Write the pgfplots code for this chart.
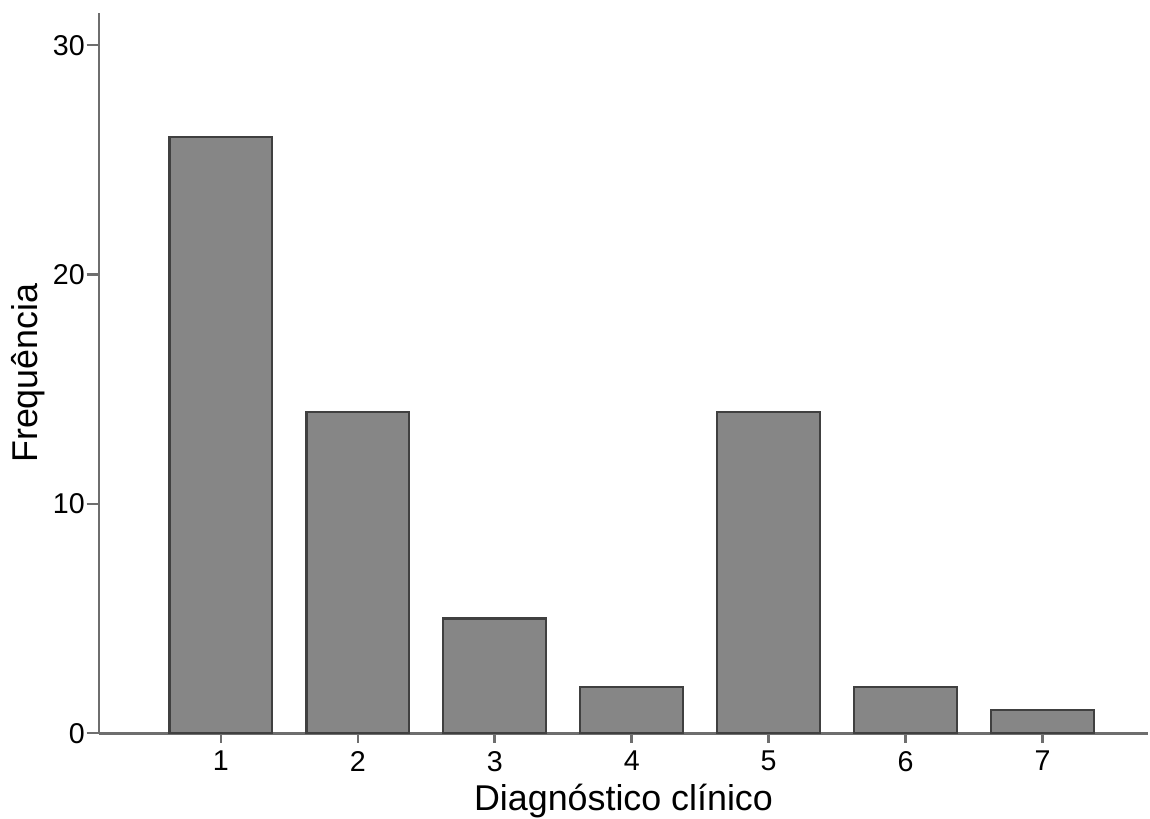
\documentclass[border=0pt]{standalone}
\usepackage{fontspec}
\setmainfont{Liberation Sans}
\usepackage{pgfplots}
\pgfplotsset{compat=1.18}

\definecolor{barfill}{HTML}{868686}
\definecolor{baredge}{HTML}{404040}
\definecolor{axisgray}{HTML}{6E6E6E}

\pgfplotstableread{
x y
1 26
2 14
3 5
4 2
5 14
6 2
7 1
}\diagdata

\begin{document}
\begin{tikzpicture}
\begin{axis}[
  scale only axis,
  width=377.6pt, height=259.2pt,
  xmin=0.11, xmax=7.77,
  ymin=0, ymax=31.4,
  axis lines=left,
  axis line style={-, axisgray, line width=1pt},
  xtick={1,...,7},
  ytick={0,10,20,30},
  tick align=outside,
  tick style={axisgray, line width=0.9pt},
  xtick style={/pgfplots/major tick length=3.4pt},
  ytick style={/pgfplots/major tick length=4.4pt},
  tick label style={font=\fontsize{10.3}{12}\selectfont},
  /pgf/number format/assume math mode=true,
  xticklabel style={inner ysep=2pt},
  yticklabel style={inner xsep=0.6pt},
  xlabel={Diagnóstico clínico},
  ylabel={Frequência},
  label style={font=\fontsize{12.9}{15}\selectfont},
  xlabel style={inner ysep=1pt, yshift=-1.2pt},
  ylabel style={yshift=-1.3pt},
  clip=false,
]
\addplot[ybar, bar width=0.75, fill=barfill, draw=baredge, line width=0.8pt]
  table[x=x, y=y] {\diagdata};
\end{axis}
% page the size of the reference: 35.6pt left, 0.7pt right, 4.7pt above, ~30pt below the axis box
\pgfresetboundingbox
\path ([xshift=-35.6pt, yshift=-30.6pt]current axis.south west)
  rectangle ([xshift=0.7pt, yshift=4.7pt]current axis.north east);
\end{tikzpicture}
\end{document}
